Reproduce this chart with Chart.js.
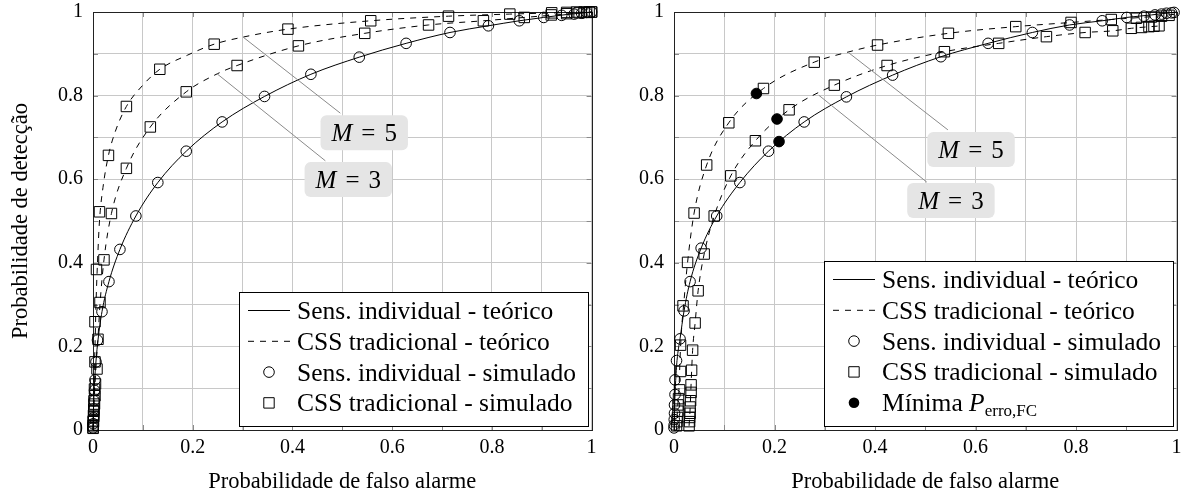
<!DOCTYPE html>
<html>
<head>
<meta charset="utf-8">
<script src="https://cdn.jsdelivr.net/npm/chart.js@4/dist/chart.umd.min.js"></script>
<style>
    html, body { margin: 0; padding: 0; background: #fff; }
    #wrap { position: relative; width: 1185px; height: 499px; }
    .panel { position: absolute; top: 0; height: 499px; }
</style>
</head>
<body>
<div id="wrap">
    <div class="panel" style="left:0;width:600px"><canvas id="left" width="600" height="499"></canvas></div>
    <div class="panel" style="left:600px;width:585px"><canvas id="right" width="585" height="499"></canvas></div>
</div>
<script>
const FONT = '"Liberation Serif", "Times New Roman", serif'

const X_TICK_LABELS = ['0', '', '0.2', '', '0.4', '', '0.6', '', '0.8', '', '1']
const Y_TICK_LABELS = ['0', '', '0.2', '', '0.4', '', '0.6', '', '0.8', '', '1']
const X_TITLE = 'Probabilidade de falso alarme'
const Y_TITLE = 'Probabilidade de detecção'

const LBL_IND_T = 'Sens. individual - teórico'
const LBL_CSS_T = 'CSS tradicional - teórico'
const LBL_IND_S = 'Sens. individual - simulado'
const LBL_CSS_S = 'CSS tradicional - simulado'
const LBL_MIN = 'Mínima '

// left panel
const leftIndTheory = [[0,0],[0.001,0.05],[0.003,0.11],[0.006,0.165],[0.01,0.215],[0.018,0.283],[0.032,0.355],[0.054,0.432],[0.086,0.512],[0.13,0.592],[0.187,0.667],[0.259,0.737],[0.344,0.798],[0.437,0.851],[0.534,0.892],[0.628,0.925],[0.716,0.951],[0.793,0.967],[0.855,0.979],[0.904,0.987],[0.95,0.994],[1,1]]
const leftM5Theory = [[0,0],[0.001,0.06],[0.002,0.12],[0.004,0.2],[0.006,0.3],[0.009,0.4],[0.013,0.5],[0.02,0.58],[0.031,0.657],[0.045,0.715],[0.067,0.774],[0.1,0.825],[0.134,0.863],[0.19,0.897],[0.243,0.923],[0.301,0.94],[0.391,0.959],[0.557,0.979],[0.713,0.99],[0.836,0.995],[1,1]]
const leftM3Theory = [[0,0],[0.002,0.06],[0.004,0.11],[0.007,0.17],[0.01,0.22],[0.014,0.3],[0.022,0.407],[0.037,0.518],[0.067,0.626],[0.115,0.725],[0.187,0.809],[0.249,0.852],[0.289,0.872],[0.412,0.919],[0.545,0.949],[0.673,0.969],[0.783,0.979],[0.865,0.987],[1,1]]
const leftIndSim = [[0.0002,0.005],[0.0005,0.015],[0.001,0.03],[0.0015,0.05],[0.002,0.07],[0.003,0.095],[0.004,0.12],[0.006,0.163],[0.009,0.215],[0.018,0.283],[0.032,0.355],[0.054,0.432],[0.086,0.512],[0.13,0.592],[0.187,0.667],[0.259,0.737],[0.344,0.798],[0.437,0.851],[0.534,0.892],[0.628,0.925],[0.716,0.951],[0.793,0.967],[0.855,0.979],[0.904,0.987],[0.94,0.992],[0.965,0.995],[0.98,0.997],[0.99,0.999],[1,1]]
const leftM5Sim = [[0.0001,0.005],[0.0003,0.012],[0.0005,0.022],[0.001,0.035],[0.0015,0.05],[0.002,0.07],[0.003,0.098],[0.004,0.163],[0.004,0.259],[0.007,0.384],[0.013,0.522],[0.031,0.657],[0.067,0.774],[0.134,0.863],[0.243,0.923],[0.391,0.959],[0.557,0.979],[0.713,0.99],[0.836,0.995],[0.92,0.998],[0.95,0.999],[0.97,1],[0.985,1],[0.995,1],[1,1]]
const leftM3Sim = [[0.0002,0.004],[0.0005,0.01],[0.001,0.02],[0.0015,0.032],[0.002,0.045],[0.003,0.062],[0.004,0.082],[0.005,0.11],[0.008,0.146],[0.01,0.217],[0.014,0.305],[0.022,0.407],[0.037,0.518],[0.067,0.626],[0.115,0.725],[0.187,0.809],[0.289,0.872],[0.412,0.919],[0.545,0.949],[0.673,0.969],[0.783,0.979],[0.865,0.987],[0.919,0.993],[0.95,0.996],[0.975,0.998],[0.99,0.999],[1,1]]

// right panel
const rightIndTheory = [[0,0],[0.001,0.05],[0.003,0.11],[0.006,0.166],[0.012,0.218],[0.02,0.285],[0.032,0.355],[0.054,0.435],[0.085,0.512],[0.131,0.592],[0.188,0.667],[0.259,0.737],[0.343,0.797],[0.435,0.849],[0.531,0.893],[0.625,0.925],[0.713,0.951],[0.787,0.969],[0.852,0.979],[0.901,0.987],[0.95,0.993],[1,1]]
const rightM5Theory = [[0.005,0],[0.007,0.05],[0.01,0.1],[0.012,0.17],[0.015,0.24],[0.019,0.297],[0.027,0.401],[0.04,0.519],[0.065,0.634],[0.109,0.735],[0.178,0.817],[0.279,0.88],[0.346,0.904],[0.405,0.921],[0.546,0.949],[0.68,0.965],[0.79,0.975],[0.87,0.982],[0.95,0.989],[1,0.995]]
const rightM3Theory = [[0.03,0.01],[0.032,0.05],[0.034,0.11],[0.037,0.19],[0.042,0.256],[0.048,0.333],[0.06,0.421],[0.08,0.512],[0.113,0.608],[0.162,0.692],[0.229,0.766],[0.319,0.825],[0.424,0.872],[0.538,0.905],[0.646,0.925],[0.741,0.941],[0.818,0.951],[0.873,0.955],[0.91,0.961],[0.97,0.967]]
const rightIndSim = [[0,0.005],[0.0003,0.012],[0.0005,0.025],[0.001,0.04],[0.001,0.06],[0.002,0.085],[0.002,0.12],[0.005,0.166],[0.012,0.218],[0.02,0.285],[0.032,0.355],[0.054,0.435],[0.085,0.512],[0.131,0.592],[0.188,0.667],[0.259,0.737],[0.343,0.797],[0.435,0.849],[0.531,0.893],[0.625,0.925],[0.713,0.951],[0.787,0.969],[0.852,0.979],[0.901,0.987],[0.935,0.99],[0.957,0.993],[0.97,0.995],[0.98,0.997],[0.99,0.998],[0.995,0.999]]
const rightM5Sim = [[0.005,0.01],[0.006,0.02],[0.007,0.03],[0.008,0.045],[0.008,0.06],[0.009,0.075],[0.011,0.096],[0.013,0.14],[0.013,0.203],[0.018,0.297],[0.027,0.401],[0.04,0.519],[0.065,0.634],[0.109,0.735],[0.178,0.817],[0.279,0.88],[0.405,0.921],[0.546,0.949],[0.68,0.965],[0.79,0.975],[0.87,0.982],[0.92,0.985],[0.95,0.988],[0.97,0.99],[0.985,0.992]]
const rightM3Sim = [[0.03,0.01],[0.031,0.02],[0.031,0.03],[0.032,0.04],[0.032,0.055],[0.033,0.07],[0.034,0.09],[0.034,0.108],[0.035,0.143],[0.037,0.191],[0.042,0.256],[0.048,0.333],[0.06,0.421],[0.08,0.512],[0.113,0.608],[0.162,0.692],[0.229,0.766],[0.319,0.825],[0.424,0.872],[0.538,0.905],[0.646,0.925],[0.741,0.941],[0.818,0.951],[0.873,0.955],[0.91,0.961],[0.93,0.963],[0.945,0.965],[0.955,0.966],[0.965,0.967]]
const rightMinErr = [[0.164,0.805],[0.205,0.744],[0.209,0.69]]

// "M = 5" / "M = 3" callouts: curve point, line end, box centre (axis units)
const leftNotes = [
    {m: '5', at: [0.301, 0.94], to: [0.496, 0.758], box: [0.544, 0.711]},
    {m: '3', at: [0.249, 0.852], to: [0.466, 0.644], box: [0.512, 0.599]}
]
const rightNotes = [
    {m: '5', at: [0.346, 0.904], to: [0.545, 0.718], box: [0.591, 0.671]},
    {m: '3', at: [0.288, 0.801], to: [0.503, 0.593], box: [0.551, 0.549]}
]

const toXY = arr => arr.map(([x, y]) => ({x, y}))
const DASH = [6, 6]
const LEG_FONT = '25.5px ' + FONT

const theory = (label, data, dashed) => ({
    label, data: toXY(data), showLine: true, pointRadius: 0,
    borderColor: '#000', borderWidth: 1, borderDash: dashed ? DASH : [],
    cubicInterpolationMode: 'monotone', clip: false
})
const marks = (label, data, style, filled) => ({
    label, data: toXY(data), showLine: false,
    pointStyle: style, pointRadius: style === 'rect' ? 7.4 : 5.3,
    pointBorderWidth: 1, borderColor: '#000',
    backgroundColor: filled ? '#000' : 'rgba(0,0,0,0)', clip: false
})

function drawMarker(ctx, kind, x, y) {
    ctx.beginPath()
    if (kind === 'line' || kind === 'dash') {
        ctx.setLineDash(kind === 'dash' ? DASH : [])
        ctx.moveTo(x - 21, y); ctx.lineTo(x + 21, y); ctx.stroke()
        ctx.setLineDash([])
    } else if (kind === 'square') {
        ctx.rect(x - 5.2, y - 5.2, 10.4, 10.4); ctx.stroke()
    } else {
        ctx.arc(x, y, 5.3, 0, Math.PI * 2)
        kind === 'dot' ? ctx.fill() : ctx.stroke()
    }
}

const notesAndLegend = {
    id: 'notesAndLegend',
    beforeDatasetsDraw(chart) {
        const {ctx, chartArea: a, scales: {x, y}} = chart
        ctx.save()
        ctx.strokeStyle = '#8a8a8a'
        ctx.lineWidth = 1
        ctx.beginPath()
        x.ticks.forEach(t => {
            const px = Math.round(x.getPixelForValue(t.value)) + 0.5
            ctx.moveTo(px, a.bottom); ctx.lineTo(px, a.bottom - 5)
            ctx.moveTo(px, a.top); ctx.lineTo(px, a.top + 5)
        })
        y.ticks.forEach(t => {
            const py = Math.round(y.getPixelForValue(t.value)) + 0.5
            ctx.moveTo(a.left, py); ctx.lineTo(a.left + 5, py)
            ctx.moveTo(a.right, py); ctx.lineTo(a.right - 5, py)
        })
        ctx.stroke()
        ctx.strokeStyle = '#222'
        ctx.strokeRect(Math.round(a.left) + 0.5, Math.round(a.top) + 0.5, Math.round(a.width), Math.round(a.height))
        ctx.restore()
    },
    afterDatasetsDraw(chart, args, opts) {
        const {ctx, chartArea: a, scales: {x, y}} = chart
        const px = v => x.getPixelForValue(v), py = v => y.getPixelForValue(v)
        ctx.save()

        // callouts
        opts.notes.forEach(n => {
            ctx.strokeStyle = '#8a8a8a'
            ctx.lineWidth = 1
            ctx.beginPath()
            ctx.moveTo(px(n.at[0]), py(n.at[1]))
            ctx.lineTo(px(n.to[0]), py(n.to[1]))
            ctx.stroke()
            const gap = 9
            ctx.font = 'italic 25px ' + FONT
            const wM = ctx.measureText('M').width
            ctx.font = '25px ' + FONT
            const wEq = ctx.measureText('=').width, wN = ctx.measureText(n.m).width
            const tw = wM + gap + wEq + gap + wN
            const w = tw + 22, h = 35
            const cx = px(n.box[0]), cy = py(n.box[1])
            ctx.fillStyle = '#e5e5e5'
            ctx.beginPath()
            ctx.roundRect(cx - w / 2, cy - h / 2, w, h, 6)
            ctx.fill()
            ctx.fillStyle = '#000'
            ctx.textBaseline = 'alphabetic'
            ctx.textAlign = 'left'
            const base = cy + 8.5
            let tx = cx - tw / 2
            ctx.font = 'italic 25px ' + FONT
            ctx.fillText('M', tx, base)
            tx += wM + gap
            ctx.font = '25px ' + FONT
            ctx.fillText('=', tx, base)
            tx += wEq + gap
            ctx.fillText(n.m, tx, base)
        })

        // legend box
        const items = opts.items
        ctx.font = LEG_FONT
        const textWidth = it => {
            let w = ctx.measureText(it.label).width
            if (it.sub) {
                ctx.font = 'italic ' + LEG_FONT
                w += ctx.measureText('P').width
                ctx.font = '17px ' + FONT
                w += ctx.measureText(it.sub).width
                ctx.font = LEG_FONT
            }
            return w
        }
        const tw = Math.max(...items.map(textWidth))
        const rowH = 30.8
        const w = Math.round(tw + 58 + 12), h = Math.round(items.length * rowH + 11)
        const right = Math.round(a.right - 4), bottom = Math.round(a.bottom - 4)
        const left = right - w, top = bottom - h
        ctx.fillStyle = '#fff'
        ctx.fillRect(left, top, w, h)
        ctx.strokeStyle = '#000'
        ctx.lineWidth = 1
        ctx.strokeRect(left + 0.5, top + 0.5, w, h)
        items.forEach((it, i) => {
            const cy = top + 18.5 + i * rowH
            ctx.strokeStyle = '#000'
            ctx.fillStyle = '#000'
            drawMarker(ctx, it.kind, left + 30, cy)
            ctx.textAlign = 'left'
            ctx.textBaseline = 'alphabetic'
            ctx.font = LEG_FONT
            let tx = left + 58
            ctx.fillText(it.label, tx, cy + 8.5)
            if (it.sub) {
                tx += ctx.measureText(it.label).width
                ctx.font = 'italic ' + LEG_FONT
                ctx.fillText('P', tx, cy + 8.5)
                tx += ctx.measureText('P').width
                ctx.font = '17px ' + FONT
                ctx.fillText(it.sub, tx, cy + 13.5)
            }
        })
        ctx.restore()
    }
}

function makeChart(id, datasets, opts) {
    return new Chart(document.getElementById(id), {
        type: 'scatter',
        data: {datasets},
        plugins: [notesAndLegend],
        options: {
            responsive: false,
            animation: false,
            layout: {padding: {top: 12, right: opts.padRight, bottom: 0, left: 0}},
            plugins: {
                legend: {display: false},
                tooltip: {enabled: false},
                notesAndLegend: {notes: opts.notes, items: opts.items}
            },
            scales: {
                x: {
                    type: 'linear', min: 0, max: 1,
                    afterFit: s => { s.height = 69; s.paddingLeft = 0; s.paddingRight = 0 },
                    grid: {color: '#c8c8c8', drawTicks: false},
                    border: {display: false},
                    ticks: {
                        stepSize: 0.1, autoSkip: false, maxRotation: 0, padding: 6,
                        color: '#000', font: {family: FONT, size: 20},
                        callback: (v, i) => X_TICK_LABELS[i]
                    },
                    title: {display: true, text: X_TITLE, color: '#000', font: {family: FONT, size: 22.5}, padding: {top: 0, bottom: 3}}
                },
                y: {
                    type: 'linear', min: 0, max: 1,
                    afterFit: s => { s.width = opts.yWidth; s.paddingTop = 0; s.paddingBottom = 0 },
                    grid: {color: '#c8c8c8', drawTicks: false},
                    border: {display: false},
                    ticks: {
                        stepSize: 0.1, autoSkip: false, padding: 10,
                        color: '#000', font: {family: FONT, size: 20},
                        callback: (v, i) => Y_TICK_LABELS[i]
                    },
                    title: {display: opts.yTitle, text: Y_TITLE, color: '#000', font: {family: FONT, size: 22.5}, padding: {top: 8, bottom: 0}}
                }
            }
        }
    })
}

const baseItems = [
    {label: LBL_IND_T, kind: 'line'},
    {label: LBL_CSS_T, kind: 'dash'},
    {label: LBL_IND_S, kind: 'circle'},
    {label: LBL_CSS_S, kind: 'square'}
]

makeChart('left', [
    theory(LBL_IND_T, leftIndTheory, false),
    theory(LBL_CSS_T + ' M=5', leftM5Theory, true),
    theory(LBL_CSS_T + ' M=3', leftM3Theory, true),
    marks(LBL_IND_S, leftIndSim, 'circle'),
    marks(LBL_CSS_S + ' M=5', leftM5Sim, 'rect'),
    marks(LBL_CSS_S + ' M=3', leftM3Sim, 'rect')
], {padRight: 5, yWidth: 93, yTitle: true, notes: leftNotes, items: baseItems})

makeChart('right', [
    marks(LBL_MIN, rightMinErr, 'circle', true),
    theory(LBL_IND_T, rightIndTheory, false),
    theory(LBL_CSS_T + ' M=5', rightM5Theory, true),
    theory(LBL_CSS_T + ' M=3', rightM3Theory, true),
    marks(LBL_IND_S, rightIndSim, 'circle'),
    marks(LBL_CSS_S + ' M=5', rightM5Sim, 'rect'),
    marks(LBL_CSS_S + ' M=3', rightM3Sim, 'rect')
], {padRight: 8, yWidth: 74, yTitle: false, notes: rightNotes,
    items: baseItems.concat([{label: LBL_MIN, kind: 'dot', sub: 'erro,FC'}])})
</script>
</body>
</html>
